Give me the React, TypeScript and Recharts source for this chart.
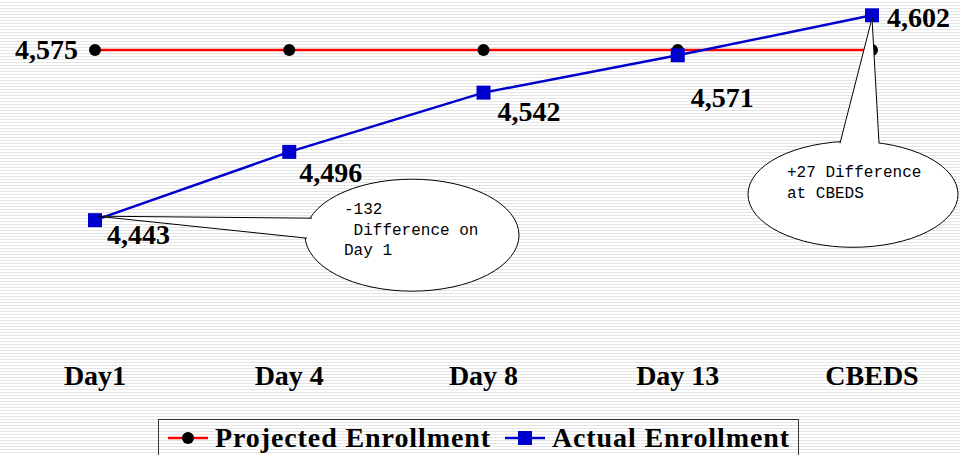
import React from "react";
import {
  LineChart,
  Line,
  XAxis,
  YAxis,
  Legend,
  LabelList,
} from "recharts";

const categories = ["Day1", "Day 4", "Day 8", "Day 13", "CBEDS"];
const projectedValues = [4575, 4575, 4575, 4575, 4575];
const actualValues = [4443, 4496, 4542, 4571, 4602];

const calloutDay1 = ["-132", " Difference on", "Day 1"];
const calloutCbeds = ["+27 Difference", "at CBEDS"];

const data = categories.map((name, i) => ({
  name,
  projected: projectedValues[i],
  actual: actualValues[i],
}));

const SERIF = '"Liberation Serif", "Times New Roman", serif';
const MONO = '"Liberation Mono", "DejaVu Sans Mono", monospace';
const RED = "#ff0000";
const BLUE = "#0000cc";

const fmt = (v: number) => v.toLocaleString("en-US");

// where each "actual" value label sits relative to its point
const actualLabelOffset: [number, number][] = [
  [12, 24],
  [10, 30],
  [14, 28],
  [13, 52],
  [15, 12],
];

const CategoryTick = (props: any) => {
  const { x, y, payload } = props;
  return (
    <text
      x={x}
      y={y + 45}
      textAnchor="middle"
      fontFamily={SERIF}
      fontWeight="bold"
      fontSize={28}
      fill="#000"
    >
      {payload.value}
    </text>
  );
};

const ActualLabel = (props: any) => {
  const { x, y, value, index } = props;
  const [dx, dy] = actualLabelOffset[index] || [10, 25];
  return (
    <text
      x={x + dx}
      y={y + dy}
      fontFamily={SERIF}
      fontWeight="bold"
      fontSize={28}
      fill="#000"
    >
      {fmt(value)}
    </text>
  );
};

const ProjectedLabel = (props: any) => {
  const { x, y, value, index } = props;
  if (index !== 0) return null;
  return (
    <text
      x={x - 17}
      y={y + 9}
      textAnchor="end"
      fontFamily={SERIF}
      fontWeight="bold"
      fontSize={28}
      fill="#000"
    >
      {fmt(value)}
    </text>
  );
};

type CalloutSpec = {
  lines: string[];
  ell: { dx: number; dy: number; rx: number; ry: number };
  apex: [number, number];
  b1: [number, number];
  b2: [number, number];
  text: { dx: number; dy: number; lh: number };
};

// speech bubbles keyed by point index
const callouts: Record<number, CalloutSpec> = {
  0: {
    lines: calloutDay1,
    ell: { dx: 317, dy: 15, rx: 107, ry: 56 },
    apex: [2, -4],
    b1: [217, -2],
    b2: [212, 18],
    text: { dx: 249, dy: -6, lh: 20.5 },
  },
  4: {
    lines: calloutCbeds,
    ell: { dx: -19, dy: 179, rx: 105, ry: 53 },
    apex: [0, 3],
    b1: [-32, 128],
    b2: [7, 128],
    text: { dx: -85, dy: 162, lh: 21 },
  },
};

const CalloutLabel = (props: any) => {
  const { x: cx, y: cy, index } = props;
  const c = callouts[index];
  if (!c || cx == null || cy == null) return null;
  const ex = cx + c.ell.dx;
  const ey = cy + c.ell.dy;
  const ax = cx + c.apex[0];
  const ay = cy + c.apex[1];
  const p1 = [cx + c.b1[0], cy + c.b1[1]];
  const p2 = [cx + c.b2[0], cy + c.b2[1]];
  const inward = (p: number[]) => [p[0] + (ex - p[0]) * 0.08, p[1] + (ey - p[1]) * 0.08];
  const q1 = inward(p1);
  const q2 = inward(p2);
  return (
    <g>
      <ellipse cx={ex} cy={ey} rx={c.ell.rx} ry={c.ell.ry} fill="#fff" stroke="#000" strokeWidth={1} />
      <polygon
        points={`${ax},${ay} ${p1[0]},${p1[1]} ${q1[0]},${q1[1]} ${q2[0]},${q2[1]} ${p2[0]},${p2[1]}`}
        fill="#fff"
        stroke="none"
      />
      <line x1={ax} y1={ay} x2={p1[0]} y2={p1[1]} stroke="#000" strokeWidth={1} />
      <line x1={ax} y1={ay} x2={p2[0]} y2={p2[1]} stroke="#000" strokeWidth={1} />
      {c.lines.map((t, i) => (
        <text
          key={i}
          x={cx + c.text.dx}
          y={cy + c.text.dy + i * c.text.lh}
          fontFamily={MONO}
          fontSize={16}
          fill="#000"
          style={{ whiteSpace: "pre" }}
        >
          {t}
        </text>
      ))}
    </g>
  );
};

const LegendBox = () => (
  <div
    style={{
      boxSizing: "border-box",
      width: 641,
      height: 36,
      border: "1px solid #333",
      borderBottom: "none",
      display: "flex",
      alignItems: "center",
      paddingLeft: 9,
      fontFamily: SERIF,
      fontWeight: "bold",
      fontSize: 28,
      letterSpacing: 0.9,
      color: "#000",
      whiteSpace: "nowrap",
    }}
  >
    <svg width={40} height={14} style={{ display: "block" }}>
      <line x1={0} y1={7} x2={40} y2={7} stroke={RED} strokeWidth={2.5} />
      <circle cx={20} cy={7} r={6} fill="#000" />
    </svg>
    <span style={{ marginLeft: 7 }}>Projected Enrollment</span>
    <svg width={40} height={14} style={{ display: "block", marginLeft: 14 }}>
      <line x1={0} y1={7} x2={40} y2={7} stroke={BLUE} strokeWidth={2.5} />
      <rect x={13} y={0} width={14} height={14} fill={BLUE} />
    </svg>
    <span style={{ marginLeft: 7 }}>Actual Enrollment</span>
  </div>
);

export default function App() {
  return (
    <div
      style={{
        position: "absolute",
        left: 0,
        top: 0,
        width: 960,
        height: 455,
        background:
          "repeating-linear-gradient(to bottom, #ffffff 0px, #ffffff 2px, #e4e4e4 2px, #e4e4e4 3px)",
      }}
    >
      <LineChart
        width={960}
        height={455}
        data={data}
        margin={{ top: 5, right: 88, left: 95, bottom: 0 }}
      >
        <XAxis
          dataKey="name"
          axisLine={false}
          tickLine={false}
          tickSize={0}
          tickMargin={0}
          height={79}
          interval={0}
          tick={<CategoryTick />}
        />
        <YAxis type="number" domain={[4350, 4610]} hide />
        <Legend
          verticalAlign="bottom"
          content={<LegendBox />}
          wrapperStyle={{ left: 158, width: 641, bottom: 0 }}
        />
        <Line
          dataKey="projected"
          name="Projected Enrollment"
          stroke={RED}
          strokeWidth={2.5}
          isAnimationActive={false}
          dot={(p: any) => <circle key={`pd-${p.index}`} cx={p.cx} cy={p.cy} r={6} fill="#000" />}
          activeDot={false}
        >
          <LabelList dataKey="projected" content={<ProjectedLabel />} />
        </Line>
        {/* invisible carrier for the speech bubbles, drawn between the two series */}
        <Line
          dataKey="actual"
          stroke="none"
          dot={false}
          activeDot={false}
          legendType="none"
          isAnimationActive={false}
        >
          <LabelList dataKey="actual" content={<CalloutLabel />} />
        </Line>
        <Line
          dataKey="actual"
          name="Actual Enrollment"
          stroke={BLUE}
          strokeWidth={2.5}
          isAnimationActive={false}
          dot={(p: any) => (
            <rect key={`ad-${p.index}`} x={p.cx - 7} y={p.cy - 7} width={14} height={14} fill={BLUE} />
          )}
          activeDot={false}
        >
          <LabelList dataKey="actual" content={<ActualLabel />} />
        </Line>
      </LineChart>
    </div>
  );
}
